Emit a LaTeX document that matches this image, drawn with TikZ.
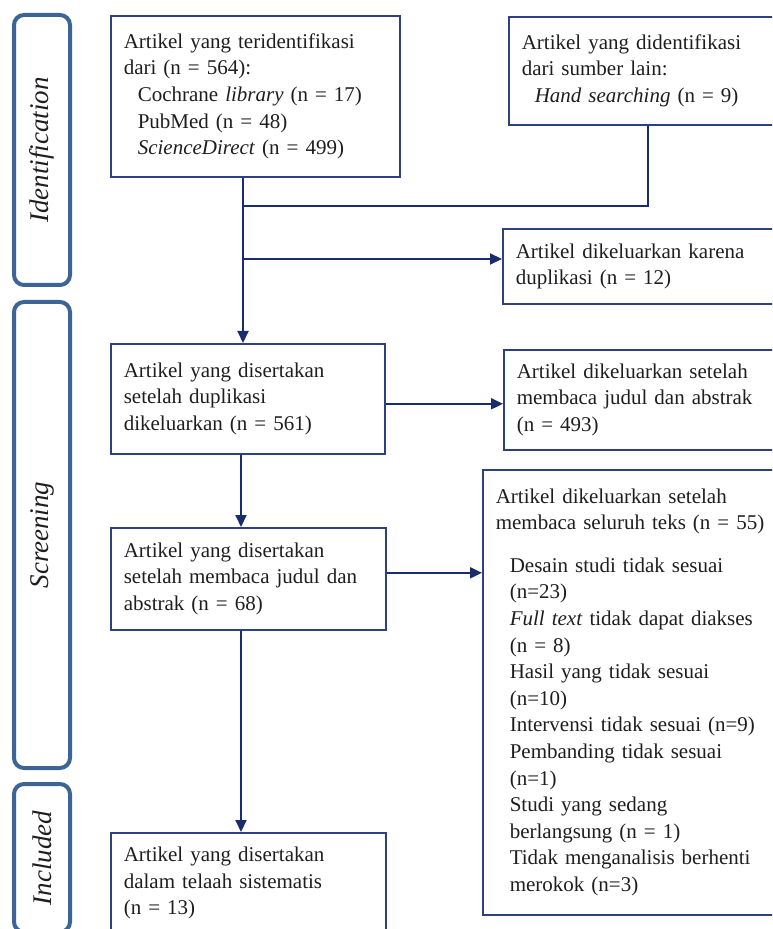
\documentclass[tikz,border=0pt]{standalone}
\usepackage{fontspec}
\setmainfont{Liberation Serif}
\usepackage{tikz}
\usetikzlibrary{
  arrows.meta,
  positioning,
  calc
}
\definecolor{boxblue}  {RGB}{45,  65, 130}
\definecolor{flowblue} {RGB}{25,  45, 110}
\definecolor{phaseblue}{RGB}{60, 100, 150}
\definecolor{txtgray}  {RGB}{30,  30,  30}
\tikzset{
  prisma/.style={
    draw=boxblue, line width=0.8pt, anchor=north west,
    inner xsep=6.5pt, inner ysep=0pt, align=left, text=txtgray,
    font=\fontsize{10.5}{13.3}\selectfont
  },
  phase/.style={
    draw=phaseblue, line width=2pt, rounded corners=5pt, rotate=90,
    minimum height=28pt, inner sep=0pt, text=txtgray,
    font=\fontsize{13.5}{16}\selectfont\itshape
  },
  flow/.style={draw=flowblue, line width=1pt},
  flowarrow/.style={flow, -{Triangle[length=6pt,width=5.5pt]}},
}

\begin{document}
\begin{tikzpicture}[x=0.5pt, y=-0.5pt]
\useasboundingbox (0,0) rectangle (772,929);
\clip (0,0) rectangle (772,929);

% ── Phase labels ──────────────────────────────────────────────────────────────
\node[phase, minimum width=135pt] (ident)  at (42,150) {Identification};
\node[phase, minimum width=233pt] (screen) at (42,535) {Screening};
\node[phase, minimum width=74pt]  (inclu)  at (42,858) {Included};

% ── Identification ────────────────────────────────────────────────────────────
\node[prisma, text width=131.5pt, minimum height=80.5pt] (src) at (110,15) {
  Artikel yang teridentifikasi\\
  dari (n = 564):\\
  \hspace*{7pt}Cochrane \textit{library} (n = 17)\\
  \hspace*{7pt}PubMed (n = 48)\\
  \hspace*{7pt}\textit{ScienceDirect} (n = 499)
};

\node[prisma, text width=128pt, minimum height=54pt] (other) at (508,16) {
  Artikel yang didentifikasi\\
  dari sumber lain:\\
  \hspace*{6.5pt}\textit{Hand searching} (n = 9)
};

\node[prisma, text width=131pt, minimum height=37.5pt] (dup) at (502,228) {
  Artikel dikeluarkan karena\\
  duplikasi (n = 12)
};

% ── Screening ─────────────────────────────────────────────────────────────────
\node[prisma, text width=124pt, minimum height=55pt] (scr1) at (110,343) {
  Artikel yang disertakan\\
  setelah duplikasi\\
  dikeluarkan (n = 561)
};

\node[prisma, text width=130.5pt, minimum height=50pt] (ex1) at (503,349) {
  Artikel dikeluarkan setelah\\
  membaca judul dan abstrak\\
  (n = 493)
};

\node[prisma, text width=124.5pt, minimum height=51pt] (scr2) at (110,527) {
  Artikel yang disertakan\\
  setelah membaca judul dan\\
  abstrak (n = 68)
};

\node[prisma, text width=141pt, minimum height=222.5pt] (ex2) at (482,469) {
  Artikel dikeluarkan setelah\\
  membaca seluruh teks (n = 55)\\[8pt]
  \hspace*{7pt}Desain studi tidak sesuai\\
  \hspace*{7pt}(n=23)\\
  \hspace*{7pt}\textit{Full text} tidak dapat diakses\\
  \hspace*{7pt}(n = 8)\\
  \hspace*{7pt}Hasil yang tidak sesuai\\
  \hspace*{7pt}(n=10)\\
  \hspace*{7pt}Intervensi tidak sesuai (n=9)\\
  \hspace*{7pt}Pembanding tidak sesuai\\
  \hspace*{7pt}(n=1)\\
  \hspace*{7pt}Studi yang sedang\\
  \hspace*{7pt}berlangsung (n = 1)\\
  \hspace*{7pt}Tidak menganalisis berhenti\\
  \hspace*{7pt}merokok (n=3)
};

% ── Included ──────────────────────────────────────────────────────────────────
\node[prisma, text width=124.5pt, minimum height=50.5pt] (final) at (110,832) {
  Artikel yang disertakan\\
  dalam telaah sistematis\\
  (n = 13)
};

% ── Connectors ────────────────────────────────────────────────────────────────
\coordinate (jn)    at (243,206);
\coordinate (mrg)   at (648,206);
\coordinate (dupjn) at (243,259);
\coordinate (col)   at (241,0);

\draw[flowarrow] (src.south -| jn) -- (scr1.north -| jn);
\draw[flow] (other.south -| mrg) -- (mrg) -- (jn);
\draw[flowarrow] (dupjn) -- (dupjn -| dup.west);

\draw[flowarrow] ($(scr1.east)+(0,5)$) -- ($(scr1.east -| ex1.west)+(0,5)$);
\draw[flowarrow] (scr1.south -| col) -- (scr2.north -| col);

\draw[flowarrow] ($(scr2.east)+(0,-6)$) -- ($(scr2.east -| ex2.west)+(0,-6)$);
\draw[flowarrow] (scr2.south -| col) -- (final.north -| col);

\end{tikzpicture}
\end{document}
